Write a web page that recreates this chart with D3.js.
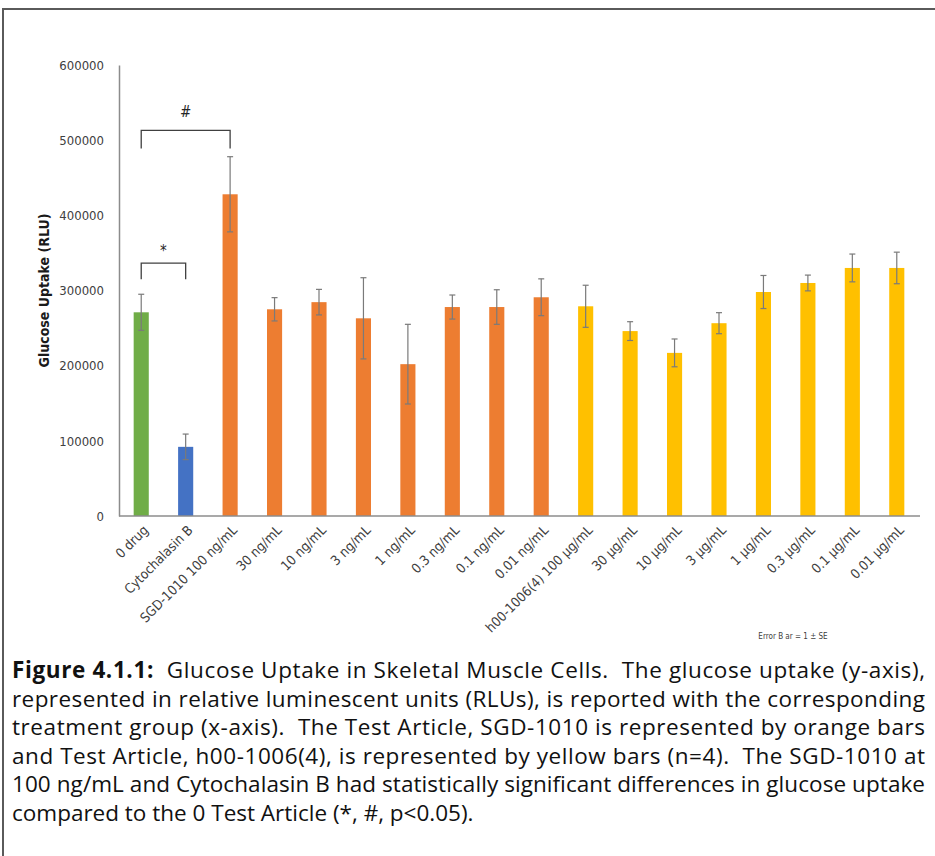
<!DOCTYPE html>
<html>
<head>
<meta charset="utf-8">
<script src="https://cdn.jsdelivr.net/npm/d3@7"></script>
<style>
  body { margin: 0; background: #fff; }
  svg text { font-family: "Liberation Sans Narrow", "DejaVu Sans Condensed", "Open Sans", sans-serif; }
</style>
</head>
<body>
<script>
// categories along the x axis
const categories = ["0 drug", "Cytochalasin B", "SGD-1010 100 ng/mL", "30 ng/mL", "10 ng/mL",
  "3 ng/mL", "1 ng/mL", "0.3 ng/mL", "0.1 ng/mL", "0.01 ng/mL", "h00-1006(4) 100 µg/mL",
  "30 µg/mL", "10 µg/mL", "3 µg/mL", "1 µg/mL", "0.3 µg/mL", "0.1 µg/mL", "0.01 µg/mL"];
// mean glucose uptake (RLU)
const means = [271000, 92000, 428000, 275000, 284500, 263000, 202000, 278000, 278000, 291000,
  279000, 246000, 217000, 256500, 298000, 310000, 330000, 330000];
// standard error
const errors = [24000, 17000, 50000, 15500, 17000, 54000, 53000, 16000, 23000, 24500,
  28000, 12500, 18500, 14000, 22000, 10500, 18500, 21000];
// group per bar (drives colour)
const groups = ["control", "cyto", "sgd", "sgd", "sgd", "sgd", "sgd", "sgd", "sgd", "sgd",
  "h00", "h00", "h00", "h00", "h00", "h00", "h00", "h00"];
const yTicks = [0, 100000, 200000, 300000, 400000, 500000, 600000];
// significance brackets: from bar, to bar, top value, leg end value, mark
const brackets = [
  {from: "0 drug", to: "SGD-1010 100 ng/mL", top: 513000, leg: 489000, mark: "#"},
  {from: "0 drug", to: "Cytochalasin B", top: 336500, leg: 315000, mark: "*"}
];
const captionLines = [
  "Glucose Uptake in Skeletal Muscle Cells.  The glucose uptake (y-axis),",
  "represented in relative luminescent units (RLUs), is reported with the corresponding",
  "treatment group (x-axis).  The Test Article, SGD-1010 is represented by orange bars",
  "and Test Article, h00-1006(4), is represented by yellow bars (n=4).  The SGD-1010 at",
  "100 ng/mL and Cytochalasin B had statistically significant differences in glucose uptake",
  "compared to the 0 Test Article (*, #, p<0.05)."
];

const w = 935, h = 856;
const margin = {top: 65, left: 119, right: 16, bottom: 340};

const color = d3.scaleOrdinal()
  .domain(["control", "cyto", "sgd", "h00"])
  .range(["#70ad47", "#4472c4", "#ed7d31", "#ffc000"]);

const svg = d3.select("body").append("svg")
  .attr("width", w)
  .attr("height", h);

// frame
svg.append("path")
  .attr("d", `M3,${h} V9 H${w}`)
  .attr("fill", "none")
  .attr("stroke", "#5a5a5a")
  .attr("stroke-width", 2);

const x = d3.scaleBand()
  .domain(categories)
  .range([margin.left, w - margin.right])
  .paddingInner(0.66)
  .paddingOuter(0.33);

const y = d3.scaleLinear()
  .domain([0, 600000])
  .range([h - margin.bottom, margin.top]);

const data = categories.map((c, i) => ({cat: c, v: means[i], se: errors[i], g: groups[i]}));

// bars
svg.append("g").selectAll("rect")
  .data(data)
  .join("rect")
  .attr("x", d => x(d.cat))
  .attr("y", d => y(d.v))
  .attr("width", x.bandwidth())
  .attr("height", d => y(0) - y(d.v))
  .attr("fill", d => color(d.g));

// error bars
const eb = svg.append("g")
  .attr("stroke", "#7a7a7a")
  .attr("stroke-width", 1.2);
eb.selectAll("line.v")
  .data(data)
  .join("line")
  .attr("class", "v")
  .attr("x1", d => x(d.cat) + x.bandwidth() / 2)
  .attr("x2", d => x(d.cat) + x.bandwidth() / 2)
  .attr("y1", d => y(d.v + d.se))
  .attr("y2", d => y(d.v - d.se));
["top", "bot"].forEach(k => {
  eb.selectAll("line." + k)
    .data(data)
    .join("line")
    .attr("class", k)
    .attr("x1", d => x(d.cat) + x.bandwidth() / 2 - 3)
    .attr("x2", d => x(d.cat) + x.bandwidth() / 2 + 3)
    .attr("y1", d => y(k === "top" ? d.v + d.se : d.v - d.se))
    .attr("y2", d => y(k === "top" ? d.v + d.se : d.v - d.se));
});

// y axis
const yAxis = svg.append("g")
  .attr("transform", `translate(${margin.left},0)`)
  .call(d3.axisLeft(y).tickValues(yTicks).tickFormat(d3.format("d")).tickSize(0).tickPadding(15));
yAxis.select(".domain").attr("stroke", "#8c8c8c").attr("stroke-width", 1.5);
yAxis.selectAll("text").attr("font-size", 13).attr("fill", "#404040");

// x axis
const xAxis = svg.append("g")
  .attr("transform", `translate(0,${y(0)})`)
  .call(d3.axisBottom(x).tickSize(0).tickSizeOuter(0));
xAxis.select(".domain").attr("stroke", "#8c8c8c").attr("stroke-width", 1.5)
  .attr("d", `M${margin.left},0H${w - margin.right + 1}`);
xAxis.selectAll("text")
  .attr("font-size", 13.5)
  .attr("fill", "#404040")
  .attr("text-anchor", "end")
  .attr("dy", 0)
  .attr("y", 0)
  .attr("transform", "translate(8,15) rotate(-45)");

// y axis title
svg.append("text")
  .attr("transform", `translate(49,${(y(0) + y(600000)) / 2}) rotate(-90)`)
  .attr("text-anchor", "middle")
  .attr("font-size", 14)
  .attr("font-weight", "bold")
  .attr("fill", "#1a1a1a")
  .text("Glucose Uptake (RLU)");

// significance brackets
const br = svg.append("g");
brackets.forEach(b => {
  const x1 = x(b.from) + x.bandwidth() / 2;
  const x2 = x(b.to) + x.bandwidth() / 2;
  br.append("path")
    .attr("d", `M${x1},${y(b.leg)}V${y(b.top)}H${x2}V${y(b.leg)}`)
    .attr("fill", "none")
    .attr("stroke", "#404040")
    .attr("stroke-width", 1.3);
  br.append("text")
    .attr("x", (x1 + x2) / 2)
    .attr("y", y(b.top) - (b.mark === "#" ? 13 : 7))
    .attr("text-anchor", "middle")
    .attr("font-size", 15)
    .attr("fill", "#262626")
    .text(b.mark);
});

// error bar note
svg.append("text")
  .attr("x", 793)
  .attr("y", 639)
  .attr("text-anchor", "middle")
  .attr("font-size", 8)
  .attr("fill", "#404040")
  .text("Error B ar = 1 ± SE");

// caption
const cap = svg.append("g")
  .attr("font-size", 22.5)
  .attr("fill", "#111");
captionLines.forEach((line, i) => {
  const t = cap.append("text")
    .style("font-family", "'Open Sans', 'Noto Sans', sans-serif")
    .style("white-space", "pre")
    .attr("x", 12)
    .attr("y", 678 + i * 28.5);
  if (i < captionLines.length - 1) {
    t.attr("textLength", 913).attr("lengthAdjust", "spacing");
  }
  if (i === 0) {
    t.append("tspan").attr("font-weight", "bold").text("Figure 4.1.1:");
    t.append("tspan").text("  " + line);
  } else {
    t.text(line);
  }
});
</script>
</body>
</html>
